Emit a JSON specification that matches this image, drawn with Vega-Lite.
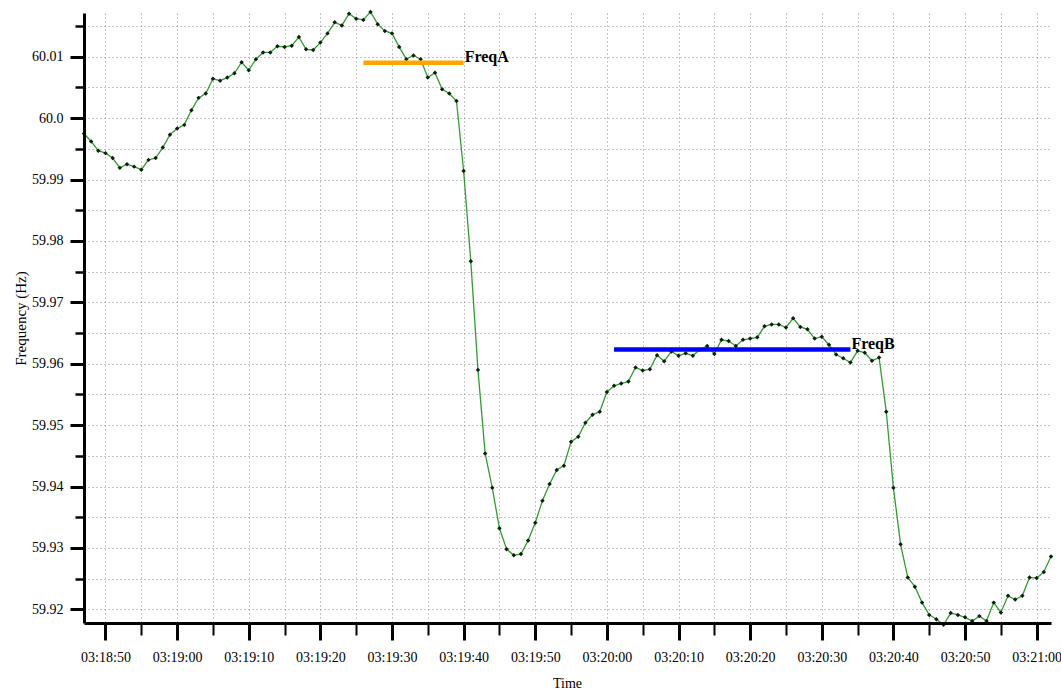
{
  "$schema": "https://vega.github.io/schema/vega-lite/v6.json",
  "width": 967,
  "height": 610,
  "autosize": {"type": "none"},
  "padding": {"left": 84, "top": 13, "right": 10, "bottom": 73},
  "background": "white",
  "config": {"view": {"stroke": null}},
  "datasets": {
    "freq": [
      {"time": "2024-01-01T03:18:47", "hz": 59.9975},
      {"time": "2024-01-01T03:18:48", "hz": 59.9962},
      {"time": "2024-01-01T03:18:49", "hz": 59.9947},
      {"time": "2024-01-01T03:18:50", "hz": 59.9943},
      {"time": "2024-01-01T03:18:51", "hz": 59.9935},
      {"time": "2024-01-01T03:18:52", "hz": 59.9919},
      {"time": "2024-01-01T03:18:53", "hz": 59.9925},
      {"time": "2024-01-01T03:18:54", "hz": 59.9921},
      {"time": "2024-01-01T03:18:55", "hz": 59.9916},
      {"time": "2024-01-01T03:18:56", "hz": 59.9932},
      {"time": "2024-01-01T03:18:57", "hz": 59.9935},
      {"time": "2024-01-01T03:18:58", "hz": 59.9952},
      {"time": "2024-01-01T03:18:59", "hz": 59.9973},
      {"time": "2024-01-01T03:19:00", "hz": 59.9983},
      {"time": "2024-01-01T03:19:01", "hz": 59.9989},
      {"time": "2024-01-01T03:19:02", "hz": 60.0013},
      {"time": "2024-01-01T03:19:03", "hz": 60.0033},
      {"time": "2024-01-01T03:19:04", "hz": 60.0040},
      {"time": "2024-01-01T03:19:05", "hz": 60.0064},
      {"time": "2024-01-01T03:19:06", "hz": 60.0061},
      {"time": "2024-01-01T03:19:07", "hz": 60.0066},
      {"time": "2024-01-01T03:19:08", "hz": 60.0073},
      {"time": "2024-01-01T03:19:09", "hz": 60.0091},
      {"time": "2024-01-01T03:19:10", "hz": 60.0078},
      {"time": "2024-01-01T03:19:11", "hz": 60.0096},
      {"time": "2024-01-01T03:19:12", "hz": 60.0107},
      {"time": "2024-01-01T03:19:13", "hz": 60.0107},
      {"time": "2024-01-01T03:19:14", "hz": 60.0117},
      {"time": "2024-01-01T03:19:15", "hz": 60.0116},
      {"time": "2024-01-01T03:19:16", "hz": 60.0118},
      {"time": "2024-01-01T03:19:17", "hz": 60.0132},
      {"time": "2024-01-01T03:19:18", "hz": 60.0112},
      {"time": "2024-01-01T03:19:19", "hz": 60.0111},
      {"time": "2024-01-01T03:19:20", "hz": 60.0123},
      {"time": "2024-01-01T03:19:21", "hz": 60.0138},
      {"time": "2024-01-01T03:19:22", "hz": 60.0156},
      {"time": "2024-01-01T03:19:23", "hz": 60.0151},
      {"time": "2024-01-01T03:19:24", "hz": 60.0170},
      {"time": "2024-01-01T03:19:25", "hz": 60.0162},
      {"time": "2024-01-01T03:19:26", "hz": 60.0160},
      {"time": "2024-01-01T03:19:27", "hz": 60.0173},
      {"time": "2024-01-01T03:19:28", "hz": 60.0153},
      {"time": "2024-01-01T03:19:29", "hz": 60.0142},
      {"time": "2024-01-01T03:19:30", "hz": 60.0138},
      {"time": "2024-01-01T03:19:31", "hz": 60.0116},
      {"time": "2024-01-01T03:19:32", "hz": 60.0096},
      {"time": "2024-01-01T03:19:33", "hz": 60.0102},
      {"time": "2024-01-01T03:19:34", "hz": 60.0096},
      {"time": "2024-01-01T03:19:35", "hz": 60.0066},
      {"time": "2024-01-01T03:19:36", "hz": 60.0074},
      {"time": "2024-01-01T03:19:37", "hz": 60.0047},
      {"time": "2024-01-01T03:19:38", "hz": 60.0040},
      {"time": "2024-01-01T03:19:39", "hz": 60.0028},
      {"time": "2024-01-01T03:19:40", "hz": 59.9914},
      {"time": "2024-01-01T03:19:41", "hz": 59.9767},
      {"time": "2024-01-01T03:19:42", "hz": 59.9590},
      {"time": "2024-01-01T03:19:43", "hz": 59.9454},
      {"time": "2024-01-01T03:19:44", "hz": 59.9398},
      {"time": "2024-01-01T03:19:45", "hz": 59.9332},
      {"time": "2024-01-01T03:19:46", "hz": 59.9298},
      {"time": "2024-01-01T03:19:47", "hz": 59.9288},
      {"time": "2024-01-01T03:19:48", "hz": 59.9290},
      {"time": "2024-01-01T03:19:49", "hz": 59.9312},
      {"time": "2024-01-01T03:19:50", "hz": 59.9341},
      {"time": "2024-01-01T03:19:51", "hz": 59.9377},
      {"time": "2024-01-01T03:19:52", "hz": 59.9404},
      {"time": "2024-01-01T03:19:53", "hz": 59.9427},
      {"time": "2024-01-01T03:19:54", "hz": 59.9434},
      {"time": "2024-01-01T03:19:55", "hz": 59.9473},
      {"time": "2024-01-01T03:19:56", "hz": 59.9481},
      {"time": "2024-01-01T03:19:57", "hz": 59.9504},
      {"time": "2024-01-01T03:19:58", "hz": 59.9517},
      {"time": "2024-01-01T03:19:59", "hz": 59.9522},
      {"time": "2024-01-01T03:20:00", "hz": 59.9554},
      {"time": "2024-01-01T03:20:01", "hz": 59.9564},
      {"time": "2024-01-01T03:20:02", "hz": 59.9568},
      {"time": "2024-01-01T03:20:03", "hz": 59.9571},
      {"time": "2024-01-01T03:20:04", "hz": 59.9594},
      {"time": "2024-01-01T03:20:05", "hz": 59.9589},
      {"time": "2024-01-01T03:20:06", "hz": 59.9591},
      {"time": "2024-01-01T03:20:07", "hz": 59.9614},
      {"time": "2024-01-01T03:20:08", "hz": 59.9604},
      {"time": "2024-01-01T03:20:09", "hz": 59.9620},
      {"time": "2024-01-01T03:20:10", "hz": 59.9613},
      {"time": "2024-01-01T03:20:11", "hz": 59.9617},
      {"time": "2024-01-01T03:20:12", "hz": 59.9613},
      {"time": "2024-01-01T03:20:13", "hz": 59.9623},
      {"time": "2024-01-01T03:20:14", "hz": 59.9629},
      {"time": "2024-01-01T03:20:15", "hz": 59.9616},
      {"time": "2024-01-01T03:20:16", "hz": 59.9639},
      {"time": "2024-01-01T03:20:17", "hz": 59.9637},
      {"time": "2024-01-01T03:20:18", "hz": 59.9629},
      {"time": "2024-01-01T03:20:19", "hz": 59.9639},
      {"time": "2024-01-01T03:20:20", "hz": 59.9641},
      {"time": "2024-01-01T03:20:21", "hz": 59.9643},
      {"time": "2024-01-01T03:20:22", "hz": 59.9661},
      {"time": "2024-01-01T03:20:23", "hz": 59.9664},
      {"time": "2024-01-01T03:20:24", "hz": 59.9664},
      {"time": "2024-01-01T03:20:25", "hz": 59.9659},
      {"time": "2024-01-01T03:20:26", "hz": 59.9674},
      {"time": "2024-01-01T03:20:27", "hz": 59.9660},
      {"time": "2024-01-01T03:20:28", "hz": 59.9656},
      {"time": "2024-01-01T03:20:29", "hz": 59.9641},
      {"time": "2024-01-01T03:20:30", "hz": 59.9644},
      {"time": "2024-01-01T03:20:31", "hz": 59.9631},
      {"time": "2024-01-01T03:20:32", "hz": 59.9615},
      {"time": "2024-01-01T03:20:33", "hz": 59.9609},
      {"time": "2024-01-01T03:20:34", "hz": 59.9602},
      {"time": "2024-01-01T03:20:35", "hz": 59.9621},
      {"time": "2024-01-01T03:20:36", "hz": 59.9618},
      {"time": "2024-01-01T03:20:37", "hz": 59.9605},
      {"time": "2024-01-01T03:20:38", "hz": 59.9610},
      {"time": "2024-01-01T03:20:39", "hz": 59.9522},
      {"time": "2024-01-01T03:20:40", "hz": 59.9398},
      {"time": "2024-01-01T03:20:41", "hz": 59.9306},
      {"time": "2024-01-01T03:20:42", "hz": 59.9252},
      {"time": "2024-01-01T03:20:43", "hz": 59.9237},
      {"time": "2024-01-01T03:20:44", "hz": 59.9211},
      {"time": "2024-01-01T03:20:45", "hz": 59.9191},
      {"time": "2024-01-01T03:20:46", "hz": 59.9184},
      {"time": "2024-01-01T03:20:47", "hz": 59.9175},
      {"time": "2024-01-01T03:20:48", "hz": 59.9194},
      {"time": "2024-01-01T03:20:49", "hz": 59.9191},
      {"time": "2024-01-01T03:20:50", "hz": 59.9187},
      {"time": "2024-01-01T03:20:51", "hz": 59.9181},
      {"time": "2024-01-01T03:20:52", "hz": 59.9189},
      {"time": "2024-01-01T03:20:53", "hz": 59.9181},
      {"time": "2024-01-01T03:20:54", "hz": 59.9211},
      {"time": "2024-01-01T03:20:55", "hz": 59.9195},
      {"time": "2024-01-01T03:20:56", "hz": 59.9222},
      {"time": "2024-01-01T03:20:57", "hz": 59.9216},
      {"time": "2024-01-01T03:20:58", "hz": 59.9222},
      {"time": "2024-01-01T03:20:59", "hz": 59.9252},
      {"time": "2024-01-01T03:21:00", "hz": 59.9251},
      {"time": "2024-01-01T03:21:01", "hz": 59.9261},
      {"time": "2024-01-01T03:21:02", "hz": 59.9286}
    ],
    "ref": [
      {"label": "FreqA", "start": "2024-01-01T03:19:26", "end": "2024-01-01T03:19:40", "hz": 60.0090, "color": "orange"},
      {"label": "FreqB", "start": "2024-01-01T03:20:01", "end": "2024-01-01T03:20:34", "hz": 59.9623, "color": "blue"}
    ]
  },
  "layer": [
    {
      "data": {"name": "freq"},
      "mark": {"type": "line", "color": "#2f9e2f", "strokeWidth": 1.3, "clip": false},
      "encoding": {
        "x": {
          "field": "time", "type": "temporal",
          "scale": {"domain": [
            {"year": 2024, "month": 1, "date": 1, "hours": 3, "minutes": 18, "seconds": 47},
            {"year": 2024, "month": 1, "date": 1, "hours": 3, "minutes": 21, "seconds": 2}
          ]},
          "axis": {
            "orient": "bottom",
            "values": [
              {"year": 2024, "month": 1, "date": 1, "hours": 3, "minutes": 18, "seconds": 50},
              {"year": 2024, "month": 1, "date": 1, "hours": 3, "minutes": 18, "seconds": 55},
              {"year": 2024, "month": 1, "date": 1, "hours": 3, "minutes": 19, "seconds": 0},
              {"year": 2024, "month": 1, "date": 1, "hours": 3, "minutes": 19, "seconds": 5},
              {"year": 2024, "month": 1, "date": 1, "hours": 3, "minutes": 19, "seconds": 10},
              {"year": 2024, "month": 1, "date": 1, "hours": 3, "minutes": 19, "seconds": 15},
              {"year": 2024, "month": 1, "date": 1, "hours": 3, "minutes": 19, "seconds": 20},
              {"year": 2024, "month": 1, "date": 1, "hours": 3, "minutes": 19, "seconds": 25},
              {"year": 2024, "month": 1, "date": 1, "hours": 3, "minutes": 19, "seconds": 30},
              {"year": 2024, "month": 1, "date": 1, "hours": 3, "minutes": 19, "seconds": 35},
              {"year": 2024, "month": 1, "date": 1, "hours": 3, "minutes": 19, "seconds": 40},
              {"year": 2024, "month": 1, "date": 1, "hours": 3, "minutes": 19, "seconds": 45},
              {"year": 2024, "month": 1, "date": 1, "hours": 3, "minutes": 19, "seconds": 50},
              {"year": 2024, "month": 1, "date": 1, "hours": 3, "minutes": 19, "seconds": 55},
              {"year": 2024, "month": 1, "date": 1, "hours": 3, "minutes": 20, "seconds": 0},
              {"year": 2024, "month": 1, "date": 1, "hours": 3, "minutes": 20, "seconds": 5},
              {"year": 2024, "month": 1, "date": 1, "hours": 3, "minutes": 20, "seconds": 10},
              {"year": 2024, "month": 1, "date": 1, "hours": 3, "minutes": 20, "seconds": 15},
              {"year": 2024, "month": 1, "date": 1, "hours": 3, "minutes": 20, "seconds": 20},
              {"year": 2024, "month": 1, "date": 1, "hours": 3, "minutes": 20, "seconds": 25},
              {"year": 2024, "month": 1, "date": 1, "hours": 3, "minutes": 20, "seconds": 30},
              {"year": 2024, "month": 1, "date": 1, "hours": 3, "minutes": 20, "seconds": 35},
              {"year": 2024, "month": 1, "date": 1, "hours": 3, "minutes": 20, "seconds": 40},
              {"year": 2024, "month": 1, "date": 1, "hours": 3, "minutes": 20, "seconds": 45},
              {"year": 2024, "month": 1, "date": 1, "hours": 3, "minutes": 20, "seconds": 50},
              {"year": 2024, "month": 1, "date": 1, "hours": 3, "minutes": 20, "seconds": 55},
              {"year": 2024, "month": 1, "date": 1, "hours": 3, "minutes": 21, "seconds": 0}
            ],
            "grid": true, "gridColor": "#8c8c8c", "gridDash": [1, 3], "gridWidth": 1,
            "ticks": true, "tickSize": 12, "tickWidth": 2, "tickColor": "black",
            "labels": false, "domain": false, "title": null, "zindex": 0
          }
        },
        "y": {
          "field": "hz", "type": "quantitative",
          "scale": {"domain": [59.91778, 60.01712], "zero": false, "nice": false},
          "axis": {
            "orient": "left",
            "values": [59.92, 59.925, 59.93, 59.935, 59.94, 59.945, 59.95, 59.955, 59.96, 59.965, 59.97, 59.975, 59.98, 59.985, 59.99, 59.995, 60.0, 60.005, 60.01, 60.015],
            "grid": true, "gridColor": "#8c8c8c", "gridDash": [1, 3], "gridWidth": 1,
            "ticks": true, "tickSize": 9, "tickWidth": 2.5, "tickColor": "black",
            "labels": false, "domain": false, "title": null, "zindex": 0
          }
        }
      }
    },
    {
      "data": {"name": "freq"},
      "mark": {"type": "point", "shape": "diamond", "filled": true, "size": 20, "color": "#0d1f0d", "opacity": 1, "clip": false},
      "encoding": {
        "x": {
          "field": "time", "type": "temporal",
          "axis": {
            "orient": "bottom",
            "values": [
              {"year": 2024, "month": 1, "date": 1, "hours": 3, "minutes": 18, "seconds": 50},
              {"year": 2024, "month": 1, "date": 1, "hours": 3, "minutes": 19, "seconds": 0},
              {"year": 2024, "month": 1, "date": 1, "hours": 3, "minutes": 19, "seconds": 10},
              {"year": 2024, "month": 1, "date": 1, "hours": 3, "minutes": 19, "seconds": 20},
              {"year": 2024, "month": 1, "date": 1, "hours": 3, "minutes": 19, "seconds": 30},
              {"year": 2024, "month": 1, "date": 1, "hours": 3, "minutes": 19, "seconds": 40},
              {"year": 2024, "month": 1, "date": 1, "hours": 3, "minutes": 19, "seconds": 50},
              {"year": 2024, "month": 1, "date": 1, "hours": 3, "minutes": 20, "seconds": 0},
              {"year": 2024, "month": 1, "date": 1, "hours": 3, "minutes": 20, "seconds": 10},
              {"year": 2024, "month": 1, "date": 1, "hours": 3, "minutes": 20, "seconds": 20},
              {"year": 2024, "month": 1, "date": 1, "hours": 3, "minutes": 20, "seconds": 30},
              {"year": 2024, "month": 1, "date": 1, "hours": 3, "minutes": 20, "seconds": 40},
              {"year": 2024, "month": 1, "date": 1, "hours": 3, "minutes": 20, "seconds": 50},
              {"year": 2024, "month": 1, "date": 1, "hours": 3, "minutes": 21, "seconds": 0}
            ],
            "format": "%H:%M:%S", "grid": false,
            "ticks": true, "tickSize": 17, "tickWidth": 3, "tickColor": "black",
            "domain": true, "domainColor": "black", "domainWidth": 3,
            "labelFont": "Liberation Serif", "labelFontSize": 14, "labelColor": "black",
            "labelPadding": 10, "labelFlush": false, "labelOverlap": false,
            "title": "Time", "titleFont": "Liberation Serif", "titleFontSize": 14, "titleFontWeight": "normal",
            "titleColor": "black", "titleX": 483, "titleY": 60, "titleAlign": "center", "titleBaseline": "middle",
            "zindex": 1
          }
        },
        "y": {
          "field": "hz", "type": "quantitative",
          "axis": {
            "orient": "left",
            "values": [59.92, 59.93, 59.94, 59.95, 59.96, 59.97, 59.98, 59.99, 60.0, 60.01],
            "labelExpr": "datum.value == 60 ? '60.0' : format(datum.value, '.2f')",
            "grid": false,
            "ticks": true, "tickSize": 14, "tickWidth": 3, "tickColor": "black",
            "domain": true, "domainColor": "black", "domainWidth": 3,
            "labelFont": "Liberation Serif", "labelFontSize": 14, "labelColor": "black",
            "labelPadding": 7, "labelFlush": false, "labelOverlap": false,
            "title": "Frequency (Hz)", "titleFont": "Liberation Serif", "titleFontSize": 15, "titleFontWeight": "normal",
            "titleColor": "black", "titleX": -64, "titleY": 305, "titleAngle": -90, "titleAlign": "center", "titleBaseline": "middle",
            "zindex": 1
          }
        }
      }
    },
    {
      "data": {"name": "ref"},
      "mark": {"type": "rule", "strokeWidth": 4.5},
      "encoding": {
        "x": {"field": "start", "type": "temporal", "axis": null},
        "x2": {"field": "end"},
        "y": {"field": "hz", "type": "quantitative", "axis": null},
        "color": {"field": "color", "type": "nominal", "scale": {"domain": ["orange", "blue"], "range": ["#FFA500", "#0000FF"]}, "legend": null}
      }
    },
    {
      "data": {"name": "ref"},
      "mark": {"type": "text", "align": "left", "baseline": "alphabetic", "dx": 1, "dy": -1, "font": "Liberation Serif", "fontWeight": "bold", "fontSize": 16, "color": "black"},
      "encoding": {
        "x": {"field": "end", "type": "temporal", "axis": null},
        "y": {"field": "hz", "type": "quantitative", "axis": null},
        "text": {"field": "label"}
      }
    }
  ],
  "resolve": {"axis": {"x": "independent", "y": "independent"}}
}
